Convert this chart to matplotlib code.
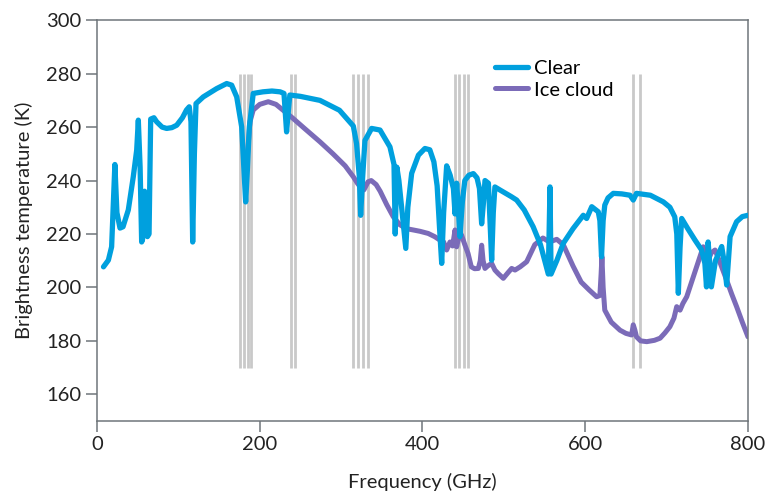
import numpy as np
import matplotlib
matplotlib.use("Agg")
import matplotlib.pyplot as plt

plt.rcParams['font.family'] = ['Lato', 'DejaVu Sans']

# channel frequencies (GHz) marked by grey bars
channels = [176, 180.5, 185, 189.5, 238.5, 243.5, 315, 321, 327, 333,
            439.5, 445, 450.5, 456, 659, 667]

clear_f = [8, 14, 18, 22, 24.5, 28.3, 32, 38.5, 44.6, 48.8, 50.8, 53, 54.9, 56,
           57, 58.5, 59.5, 62, 64, 66, 70, 73.3, 80, 85.6, 92, 98, 105, 110,
           113.4, 115.5, 117.6, 119.7, 121.7, 130.6, 147, 159.4, 165.5, 171.7,
           177.8, 180.6, 182.7, 184.8, 187.2, 192, 204, 215, 225, 229.8, 231.8,
           233, 234.5, 237, 250, 274, 298, 307, 315, 319, 322.4, 324, 326.5,
           329.3, 337.5, 347.8, 360, 365, 366.5, 368.5, 371, 376, 379.5, 382,
           386.7, 395, 403, 409, 414, 418, 421, 423.6, 426, 429.7, 434, 438,
           440, 442, 444, 446, 449, 452, 457, 462.5, 467, 470, 472.7, 475,
           476.8, 481, 483, 485, 487, 489, 495, 503.5, 509, 515.7, 525, 536,
           545, 554.6, 556.7, 558, 565, 573, 585, 597.6, 601.7, 608, 616, 618,
           620, 622, 624, 628, 634.5, 645, 655, 659, 663, 680, 696, 704, 710,
           712.5, 714.4, 716.5, 718.5, 726, 734.9, 743, 747, 749, 751, 753,
           755, 760, 767.7, 771, 773.8, 778, 786, 793, 800]
clear_t = [207.7, 210.2, 215.2, 246, 228, 222.2, 222.7, 229, 241.4, 251.4,
           262.6, 245, 217, 218, 234, 236, 222, 219, 220, 263, 263.5, 262,
           260, 259.5, 259.8, 260.7, 263.5, 266.4, 267.6, 262, 217, 250,
           268.8, 271.3, 274.4, 276.3, 275.7, 271.3, 260.1, 243.9, 232, 243.9,
           260, 272.6, 273.2, 273.5, 273.2, 272.6, 263.8, 258.2, 263.8, 272,
           271.5, 270, 266.3, 263.2, 260.4, 253.8, 241.4, 227, 241.4, 255,
           259.5, 258.9, 252.6, 246, 220, 245, 240, 225, 214.6, 230, 242.7,
           249.5, 252, 251.5, 247, 238, 222, 209, 228, 245.5, 242, 237, 227.5,
           239, 230, 219, 232, 240, 242, 242.6, 241, 237, 223.8, 232, 240, 239,
           225, 210.2, 228, 237.6, 236.5, 235, 234, 232.7, 229, 222.7, 216,
           205, 237.6, 205, 210, 216.5, 222, 227, 225.8, 230.2, 228.3, 225,
           211.5, 225, 230.8, 233.5, 235.2, 235, 234.5, 232.7, 235.2, 234.5,
           232, 230, 226.4, 220, 197.8, 215, 225.8, 222, 217.7, 214, 209,
           200.2, 217, 209, 200.2, 210, 215.3, 209, 200.9, 219, 224.6, 226.5,
           227]

ice_f = [185, 188, 192, 200, 210.5, 220, 230, 240, 255, 274, 290, 305, 315,
         320, 325, 328, 333, 337, 343, 348, 356, 364, 372, 380, 388.7, 397,
         407, 415, 421.5, 426, 429.7, 433.8, 437, 440, 442, 444, 448, 452, 456,
         460, 464, 468.6, 471, 472.7, 474.5, 476.8, 480, 485, 489, 493, 499.3,
         505, 509.6, 513.7, 520, 528, 538, 548, 556, 565, 573, 585, 595, 605,
         614, 618, 619.5, 620.5, 622, 624, 632, 642.7, 650, 657, 659, 661, 663,
         668, 675.6, 685, 692, 698, 704, 709, 712.4, 716.5, 720, 724.7, 735,
         745, 748, 751, 755, 759.5, 766, 773.8, 780, 786, 793, 800]
ice_t = [250, 262, 266.4, 268.5, 269.5, 268.5, 266, 263.5, 259.5, 254.5, 250,
         245.5, 241.4, 239, 237, 236.5, 239.5, 240, 238.5, 236, 231, 226.5,
         223.5, 222, 221.5, 221, 220.2, 219, 217.7, 217, 214, 217, 215.5,
         221.5, 215.2, 218, 219.6, 216, 212.7, 207.7, 207, 207.1, 210, 215.8,
         210, 207.1, 208, 209, 206.5, 205.2, 203.4, 205.5, 207.1, 206.5, 207.7,
         209.6, 216, 218.5, 217, 218, 216, 208, 202, 199, 196.5, 197, 205,
         211.5, 200, 191.5, 187, 184, 182.8, 182.2, 186, 184, 181.5, 180,
         179.7, 180.2, 181, 183, 185.3, 188.5, 192.8, 191.5, 194, 196.5, 206,
         215.2, 212, 210.2, 213, 214, 209, 202.7, 197.5, 192.8, 187, 181.5]

fig = plt.figure(figsize=(7.66, 4.93), dpi=100)
ax = fig.add_axes([0.1266, 0.146, 0.8499, 0.813])

ax.vlines(channels, 170, 280, color='#c9c9c9', lw=2, zorder=1)
ax.plot(ice_f, ice_t, color='#7b6bb8', lw=3.6, label='Ice cloud',
        solid_joinstyle='round', solid_capstyle='round', zorder=2)
ax.plot(clear_f, clear_t, color='#00a0de', lw=3.8, label='Clear',
        solid_joinstyle='round', solid_capstyle='round', zorder=3)

ax.set_xlim(0, 800)
ax.set_ylim(150, 300)
ax.set_xticks([0, 200, 400, 600, 800])
ax.set_yticks(np.arange(160, 301, 20))

spine_col = '#6f757a'
for s in ax.spines.values():
    s.set_color(spine_col)
    s.set_linewidth(1.1)
ax.tick_params(direction='out', length=8, width=1.1, color=spine_col,
               labelsize=14.5, labelcolor='#222222', pad=3)

ax.set_xlabel('Frequency (GHz)', fontsize=14.5, color='#222222', labelpad=14)
ax.set_ylabel('Brightness temperature (K)', fontsize=14.5, color='#222222',
              labelpad=10)

handles, labels = ax.get_legend_handles_labels()
ax.legend(handles[::-1], labels[::-1], loc='upper left',
          bbox_to_anchor=(0.612, 0.9), frameon=False, fontsize=14.5,
          handlelength=1.6, handletextpad=0.3, labelspacing=0.2,
          borderpad=0, borderaxespad=0)

fig.savefig('out.png', dpi=100)
